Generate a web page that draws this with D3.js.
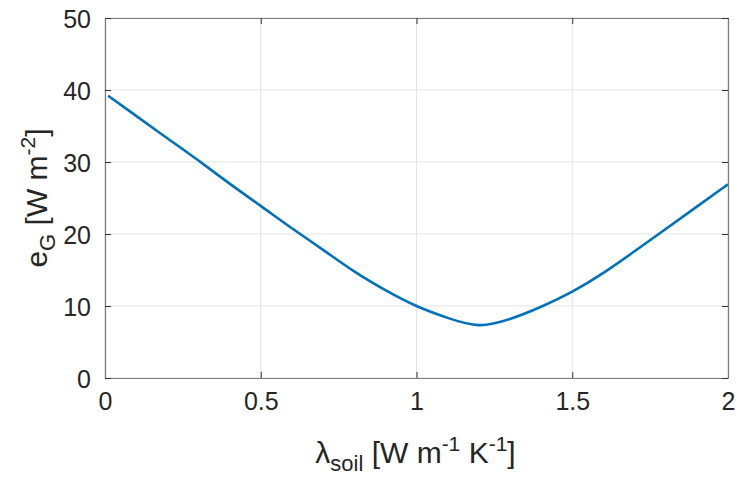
<!DOCTYPE html>
<html><head><meta charset="utf-8">
<script src="https://cdn.jsdelivr.net/npm/d3@7"></script>
<style>body{margin:0;background:#fff}svg{display:block}</style>
</head><body>
<script>
const lambdaSoil = [0.01,0.1,0.2,0.3,0.4,0.5,0.6,0.7,0.8,0.9,1.0,1.1,1.2,1.3,1.4,1.5,1.6,1.7,1.8,1.9,2.0];
const eG =         [39.2,36.4,33.3,30.2,27.0,23.9,20.8,17.8,14.8,12.2,10.0,8.35,7.35,8.2,9.9,12.0,14.6,17.6,20.7,23.8,26.9];
const xTicks = [0,0.5,1,1.5,2];
const yTicks = [0,10,20,30,40,50];

const W=737,H=477, m={l:105,r:9,t:18,b:99};
const svg=d3.select("body").append("svg").attr("width",W).attr("height",H);
const x=d3.scaleLinear().domain([0,2]).range([m.l,W-m.r]);
const y=d3.scaleLinear().domain([0,50]).range([H-m.b,m.t]);
const font="Liberation Sans, Arial, Helvetica, sans-serif";
const axCol="#7a7a7a", txtCol="#262626";

// grid
svg.append("g").selectAll("line").data(xTicks).join("line")
  .attr("x1",d=>x(d)).attr("x2",d=>x(d)).attr("y1",y(0)).attr("y2",y(50))
  .attr("stroke","#e3e3e3").attr("stroke-width",1);
svg.append("g").selectAll("line").data(yTicks).join("line")
  .attr("y1",d=>y(d)).attr("y2",d=>y(d)).attr("x1",x(0)).attr("x2",x(2))
  .attr("stroke","#e3e3e3").attr("stroke-width",1);

// curve
const pts=lambdaSoil.map((v,i)=>[v,eG[i]]);
svg.append("path").datum(pts)
  .attr("d",d3.line().x(d=>x(d[0])).y(d=>y(d[1])).curve(d3.curveNatural))
  .attr("fill","none").attr("stroke","#0072BD").attr("stroke-width",2.6);

// axes with inward ticks on all sides
const tl=6;
const axB=svg.append("g").attr("transform",`translate(0,${y(0)})`).call(d3.axisBottom(x).tickValues(xTicks).tickFormat(d3.format("")).tickSizeInner(-tl).tickSizeOuter(0).tickPadding(14));
const axT=svg.append("g").attr("transform",`translate(0,${y(50)})`).call(d3.axisTop(x).tickValues(xTicks).tickFormat("").tickSizeInner(-tl).tickSizeOuter(0));
const axL=svg.append("g").attr("transform",`translate(${x(0)},0)`).call(d3.axisLeft(y).tickValues(yTicks).tickSizeInner(-tl).tickSizeOuter(0).tickPadding(14));
const axR=svg.append("g").attr("transform",`translate(${x(2)},0)`).call(d3.axisRight(y).tickValues(yTicks).tickFormat("").tickSizeInner(-tl).tickSizeOuter(0));
[axB,axT,axL,axR].forEach(a=>{
  a.select(".domain").attr("stroke",axCol).attr("stroke-width",1.2);
  a.selectAll(".tick line").attr("stroke","#333").attr("stroke-width",1);
  a.selectAll("text").attr("font-family",font).attr("font-size",25).attr("fill",txtCol);
});
axB.selectAll("text").attr("dy","0.71em");
axL.selectAll("text").attr("dy","0.36em");

// x label
const xl=svg.append("text").attr("x",(x(0)+x(2))/2-1).attr("y",463).attr("text-anchor","middle")
  .attr("font-family",font).attr("font-size",30).attr("fill",txtCol);
xl.append("tspan").text("λ");
xl.append("tspan").attr("font-size",22).attr("dy",8).text("soil");
xl.append("tspan").attr("dy",-8).text(" [W m");
xl.append("tspan").attr("font-size",21).attr("dy",-12).text("-1");
xl.append("tspan").attr("dy",12).text(" K");
xl.append("tspan").attr("font-size",21).attr("dy",-12).text("-1");
xl.append("tspan").attr("dy",12).text("]");

// y label
const yl=svg.append("text").attr("transform",`translate(47,${(y(0)+y(50))/2}) rotate(-90)`).attr("text-anchor","middle")
  .attr("font-family",font).attr("font-size",30).attr("fill",txtCol);
yl.append("tspan").text("e");
yl.append("tspan").attr("font-size",22).attr("dy",8).text("G");
yl.append("tspan").attr("dy",-8).text(" [W m");
yl.append("tspan").attr("font-size",21).attr("dy",-12).text("-2");
yl.append("tspan").attr("dy",12).text("]");
</script>
</body></html>
